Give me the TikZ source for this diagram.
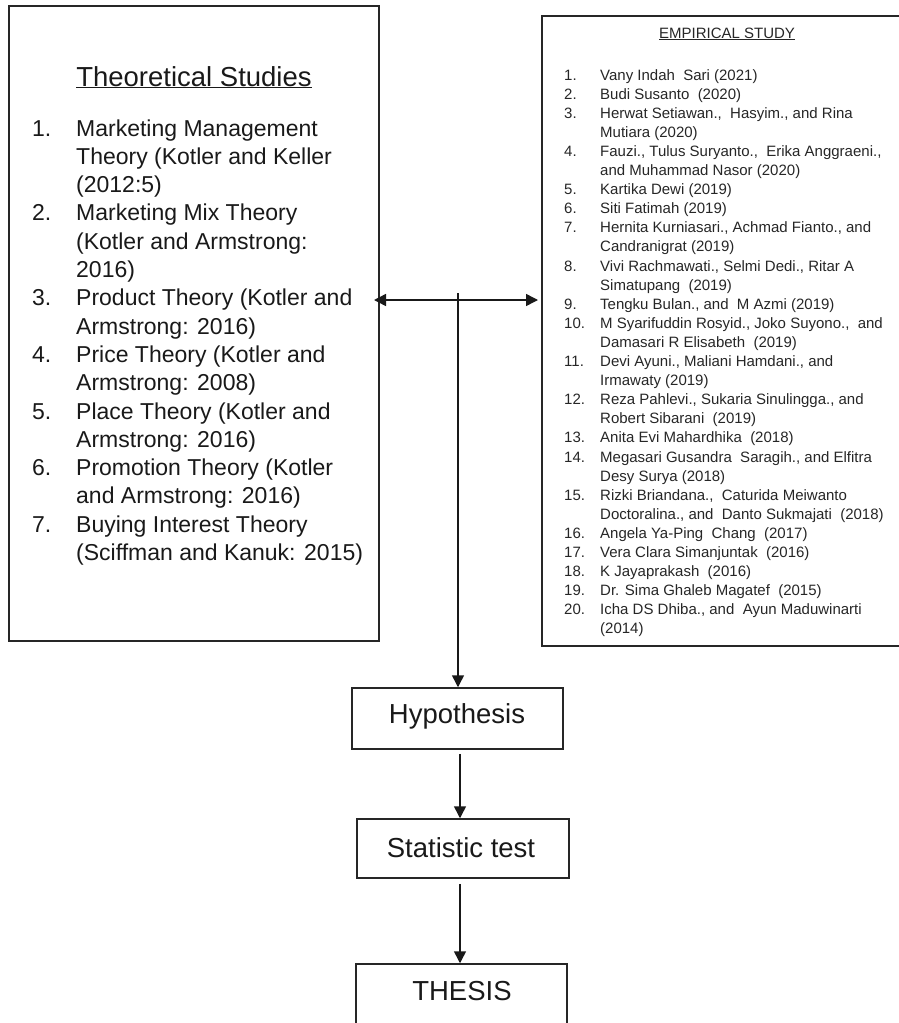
\documentclass[tikz,border=0pt]{standalone}
\usepackage{fontspec}
\setmainfont{Liberation Sans}
\usetikzlibrary{arrows.meta}
\begin{document}
\begin{tikzpicture}[x=1pt,y=-1pt,
  bigbox/.style={draw=black!85,line width=1.8pt,rectangle,inner sep=0pt},
  flowbox/.style={draw=black!85,line width=1.5pt,rectangle,inner sep=0pt},
  arr/.style={line width=1.5pt,black!90,-{Triangle[length=12pt,width=12pt]}},
  darr/.style={line width=1.5pt,black!90,{Triangle[length=12pt,width=12pt]}-{Triangle[length=12pt,width=12pt]}},
  bigtxt/.style={font=\fontsize{27.5}{33}\selectfont,text=black!90,inner sep=0pt},
  listL/.style={font=\fontsize{23}{28.3}\selectfont,text=black!90,inner sep=0pt,anchor=base west},
  listR/.style={font=\fontsize{15}{19.1}\selectfont,text=black!85,inner sep=0pt,anchor=base west}]
\useasboundingbox (0,0) rectangle (899,1023);
\clip (0,0) rectangle (899,1023);
% boxes
\node[bigbox,minimum width=370pt,minimum height=635pt] (theory) at (194,323.5) {};
\node[bigbox,minimum width=363pt,minimum height=630pt] (empir) at (723.5,331) {};
\node[flowbox,minimum width=211pt,minimum height=61pt] (hyp) at (457.5,718.5) {};
\node[flowbox,minimum width=212pt,minimum height=59pt] (stat) at (463,848.5) {};
\node[flowbox,minimum width=211pt,minimum height=96pt] (thesis) at (461.5,1012) {};
% labels
\node[bigtxt] (hyplbl) at (457,716) {Hypothesis};
\node[bigtxt] (statlbl) at (461,848) {Statistic test};
\node[bigtxt,anchor=base] (thesislbl) at (462,1000) {THESIS};
\node[bigtxt,anchor=base] (ttitle) at (194,86) {\underline{Theoretical Studies}};
\node[font=\fontsize{15}{18}\selectfont,text=black!85,inner sep=0pt,anchor=base] (etitle) at (727,38) {\underline{EMPIRICAL STUDY}};
% theoretical list
\node[listL] (tlist) at (32,136) {\begin{tabular}[t]{@{}p{44pt}@{}l@{}}
1. & Marketing Management\\
   & Theory (Kotler and Keller\\
   & (2012:5)\\
2. & Marketing Mix Theory\\
   & (Kotler and Armstrong:\\
   & 2016)\\
3. & Product Theory (Kotler and\\
   & Armstrong: 2016)\\
4. & Price Theory (Kotler and\\
   & Armstrong: 2008)\\
5. & Place Theory (Kotler and\\
   & Armstrong: 2016)\\
6. & Promotion Theory (Kotler\\
   & and Armstrong: 2016)\\
7. & Buying Interest Theory\\
   & (Sciffman and Kanuk: 2015)
\end{tabular}};
% empirical list
\node[listR] (elist) at (564,80) {\begin{tabular}[t]{@{}p{36pt}@{}l@{}}
1. & Vany Indah\ \ Sari (2021)\\
2. & Budi Susanto\ \ (2020)\\
3. & Herwat Setiawan.,\ \ Hasyim., and Rina\\
   & Mutiara (2020)\\
4. & Fauzi., Tulus Suryanto.,\ \ Erika Anggraeni.,\\
   & and Muhammad Nasor (2020)\\
5. & Kartika Dewi (2019)\\
6. & Siti Fatimah (2019)\\
7. & Hernita Kurniasari., Achmad Fianto., and\\
   & Candranigrat (2019)\\
8. & Vivi Rachmawati., Selmi Dedi., Ritar A\\
   & Simatupang\ \ (2019)\\
9. & Tengku Bulan., and\ \ M Azmi (2019)\\
10. & M Syarifuddin Rosyid., Joko Suyono.,\ \ and\\
   & Damasari R Elisabeth\ \ (2019)\\
11. & Devi Ayuni., Maliani Hamdani., and\\
   & Irmawaty (2019)\\
12. & Reza Pahlevi., Sukaria Sinulingga., and\\
   & Robert Sibarani\ \ (2019)\\
13. & Anita Evi Mahardhika\ \ (2018)\\
14. & Megasari Gusandra\ \ Saragih., and Elfitra\\
   & Desy Surya (2018)\\
15. & Rizki Briandana.,\ \ Caturida Meiwanto\\
   & Doctoralina., and\ \ Danto Sukmajati\ \ (2018)\\
16. & Angela Ya-Ping\ \ Chang\ \ (2017)\\
17. & Vera Clara Simanjuntak\ \ (2016)\\
18. & K Jayaprakash\ \ (2016)\\
19. & Dr. Sima Ghaleb Magatef\ \ (2015)\\
20. & Icha DS Dhiba., and\ \ Ayun Maduwinarti\\
   & (2014)
\end{tabular}};
% connectors
\coordinate (hl) at (374,300);
\coordinate (hr) at (538,300);
\coordinate (jtop) at (458,293);
\coordinate (ax) at (460,0);
\draw[darr] (hl) -- (hr);
\draw[arr] (jtop) -- (jtop |- hyp.north);
\draw[arr] ([yshift=-4pt]hyp.south -| ax) -- (stat.north -| ax);
\draw[arr,shorten <=5pt] (stat.south -| ax) -- (thesis.north -| ax);
\end{tikzpicture}
\end{document}
